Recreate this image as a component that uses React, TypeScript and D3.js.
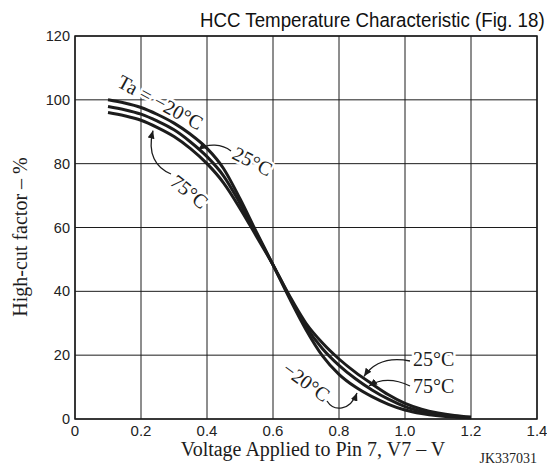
import React from "react";
import * as d3 from "d3";

// Applied voltage on pin 7 (V) at which each curve is sampled
const voltage = [
  0.1, 0.15, 0.2, 0.25, 0.3, 0.35, 0.4, 0.45, 0.5, 0.55, 0.6, 0.65, 0.7, 0.75,
  0.8, 0.85, 0.9, 0.95, 1.0, 1.05, 1.1, 1.15, 1.2,
];

// High-cut factor (%) for each ambient temperature
const cutMinus20 = [
  100, 99, 97.6, 95.4, 92.7, 89.2, 84.8, 78.5, 69, 58.5, 48.3, 37.8, 28, 19.8,
  14, 10, 7, 4.6, 2.8, 1.7, 1.0, 0.6, 0.4,
];
const cut25 = [
  97.9, 96.9, 95.5, 93.3, 90.6, 86.8, 82.2, 76.2, 67.6, 58, 48.3, 38.6, 30,
  23.8, 18.8, 14.6, 11, 7.6, 4.9, 3.1, 1.9, 1.1, 0.6,
];
const cut75 = [
  96, 95, 93.6, 91.3, 88.5, 84.7, 80, 74, 66, 57.2, 48.3, 38.2, 29, 22, 16.8,
  12.6, 9.1, 6.2, 3.9, 2.4, 1.4, 0.8, 0.5,
];

const xTicks = [0, 0.2, 0.4, 0.6, 0.8, 1.0, 1.2, 1.4];
const xTickLabels = ["0", "0.2", "0.4", "0.6", "0.8", "1.0", "1.2", "1.4"];
const yTicks = [0, 20, 40, 60, 80, 100, 120];

const W = 547;
const H = 466;
const INK = "#1c1c1c";
const SERIF = "'Liberation Serif', 'Times New Roman', serif";
const SANS = "'Liberation Sans', Arial, sans-serif";

const x = d3.scaleLinear().domain([0, 1.4]).range([75, 537]);
const y = d3.scaleLinear().domain([0, 120]).range([419, 36]);

const curve = d3
  .line<number>()
  .x((_, i) => x(voltage[i]))
  .y((d) => y(d))
  .curve(d3.curveMonotoneX);

// Linear lookup of a series value at a given voltage
function valueAt(series: number[], v: number): number {
  const i = Math.max(1, Math.min(voltage.length - 1, d3.bisectLeft(voltage, v)));
  const t = (v - voltage[i - 1]) / (voltage[i] - voltage[i - 1]);
  return series[i - 1] + t * (series[i] - series[i - 1]);
}

// Point on a series at screen x, shifted by dy pixels
function tip(series: number[], px: number, dy: number): [number, number] {
  return [px, y(valueAt(series, x.invert(px))) + dy];
}

type Label = { text: string; x: number; y: number; angle: number };
const labels: Label[] = [
  { text: "Ta = \u221220\u00b0C", x: 116, y: 86, angle: 28.5 },
  { text: "25\u00b0C", x: 231, y: 158, angle: 27 },
  { text: "75\u00b0C", x: 169, y: 184, angle: 39 },
  { text: "\u221220\u00b0C", x: 281, y: 372, angle: 36 },
  { text: "25\u00b0C", x: 413, y: 366, angle: 0 },
  { text: "75\u00b0C", x: 413, y: 393, angle: 0 },
];

function leader(
  from: [number, number],
  c1: [number, number],
  c2: [number, number],
  to: [number, number]
): string {
  const p = d3.path();
  p.moveTo(from[0], from[1]);
  p.bezierCurveTo(c1[0], c1[1], c2[0], c2[1], to[0], to[1]);
  return p.toString();
}

export default function App() {
  const t25Up = tip(cut25, 198, 1);
  const t75Up = tip(cut75, 153, 5);
  const tM20Lo = tip(cutMinus20, 357, 5);
  const t25Lo = tip(cut25, 364, -2);
  const t75Lo = tip(cut75, 369, -2);

  const leaders = [
    leader([231, 151], [222, 144], [208, 143], t25Up),
    leader([171, 174], [156, 168], [147, 154], t75Up),
    leader([327, 401], [334, 412], [350, 411], tM20Lo),
    leader([410, 361], [390, 357], [374, 362], t25Lo),
    leader([410, 386], [393, 378], [380, 379], t75Lo),
  ];

  return (
    <svg
      width={W}
      height={H}
      viewBox={`0 0 ${W} ${H}`}
      style={{ position: "absolute", left: 0, top: 0, background: "#fff" }}
    >
      <defs>
        <marker
          id="arrow"
          markerUnits="userSpaceOnUse"
          markerWidth={9}
          markerHeight={7}
          refX={8}
          refY={3.5}
          orient="auto"
        >
          <path d="M0,0 L8,3.5 L0,7 z" fill={INK} />
        </marker>
      </defs>

      {/* title, set in a slightly condensed sans */}
      <text
        transform="translate(200 27) scale(0.913 1)"
        fontFamily={SANS}
        fontSize={20.5}
        fill="#111"
      >
        HCC Temperature Characteristic (Fig. 18)
      </text>

      {/* grid */}
      <g stroke={INK} strokeWidth={1}>
        {xTicks.map((t) => (
          <line key={`gx${t}`} x1={x(t)} x2={x(t)} y1={y(120)} y2={y(0)} />
        ))}
        {yTicks.map((t) => (
          <line key={`gy${t}`} x1={x(0)} x2={x(1.4)} y1={y(t)} y2={y(t)} />
        ))}
      </g>
      <rect
        x={x(0)}
        y={y(120)}
        width={x(1.4) - x(0)}
        height={y(0) - y(120)}
        fill="none"
        stroke={INK}
        strokeWidth={1.5}
      />

      {/* tick labels */}
      <g fontFamily={SANS} fill="#222">
        {yTicks.map((t) => (
          <text
            key={`ly${t}`}
            x={70}
            y={y(t) + 5}
            textAnchor="end"
            fontSize={14.5}
          >
            {t}
          </text>
        ))}
        {xTicks.map((t, i) => (
          <text
            key={`lx${t}`}
            x={x(t)}
            y={436}
            textAnchor="middle"
            fontSize={15}
          >
            {xTickLabels[i]}
          </text>
        ))}
      </g>

      {/* temperature labels with a white halo that breaks the grid */}
      <g fontFamily={SERIF} fontSize={20} fill={INK}>
        {labels.map((l, i) => (
          <text
            key={`t${i}`}
            x={l.x}
            y={l.y}
            transform={l.angle ? `rotate(${l.angle} ${l.x} ${l.y})` : undefined}
            stroke="#fff"
            strokeWidth={5}
            strokeLinejoin="round"
            paintOrder="stroke"
          >
            {l.text}
          </text>
        ))}
      </g>

      {/* characteristic curves */}
      <g fill="none" stroke={INK} strokeWidth={3} strokeLinecap="butt">
        <path d={curve(cutMinus20) ?? ""} />
        <path d={curve(cut25) ?? ""} />
        <path d={curve(cut75) ?? ""} />
      </g>

      {/* leader arrows */}
      <g fill="none" stroke={INK} strokeWidth={1.3}>
        {leaders.map((d, i) => (
          <path key={`a${i}`} d={d} markerEnd="url(#arrow)" />
        ))}
      </g>

      <text
        transform="translate(27 237) rotate(-90)"
        textAnchor="middle"
        fontFamily={SERIF}
        fontSize={20}
        fill={INK}
      >
        High-cut factor – %
      </text>
      <text
        x={313}
        y={456}
        textAnchor="middle"
        fontFamily={SERIF}
        fontSize={20}
        fill={INK}
      >
        Voltage Applied to Pin 7, V7 – V
      </text>
      <text
        x={537}
        y={463}
        textAnchor="end"
        fontFamily={SERIF}
        fontSize={14}
        fill={INK}
      >
        JK337031
      </text>
    </svg>
  );
}
